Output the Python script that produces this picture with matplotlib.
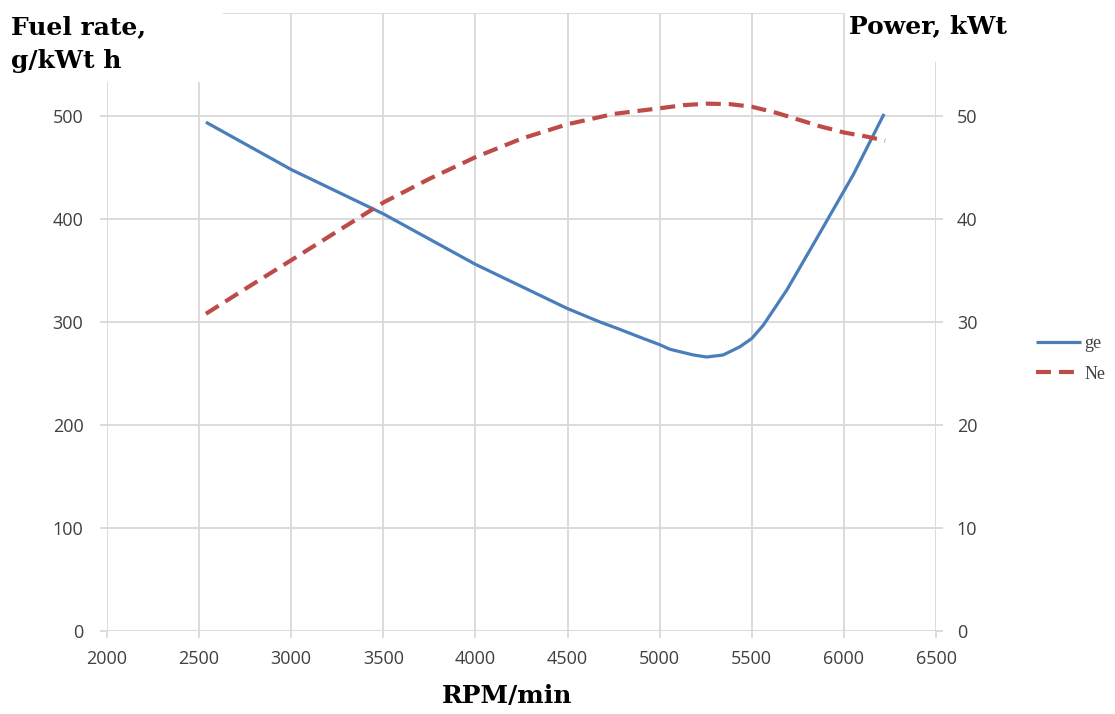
import numpy as np
import matplotlib
matplotlib.use('Agg')
import matplotlib.pyplot as plt
from matplotlib.patches import Rectangle

# ---------------- data ----------------
ge_rpm = [2537, 3000, 3500, 4000, 4500, 4676, 4767, 4911, 5000, 5056,
          5183, 5255, 5345, 5436, 5500, 5563, 5690, 5852, 6051, 6218]
ge_val = [494, 448, 405, 356, 313, 300, 294, 284, 278, 273.5,
          268, 266, 268, 276, 284, 297, 331, 381, 443, 502]

ne_rpm = [2537, 2758, 3000, 3250, 3500, 3750, 4000, 4250, 4500, 4750, 5000,
          5128, 5255, 5382, 5500, 5635, 5762, 5870, 6000, 6124, 6224]
ne_val = [30.8, 33.3, 36.0, 38.8, 41.6, 43.9, 46.0, 47.8, 49.2, 50.2, 50.75,
          51.05, 51.2, 51.15, 50.9, 50.3, 49.6, 49.0, 48.4, 48.0, 47.6]

x_ticks = [2000, 2500, 3000, 3500, 4000, 4500, 5000, 5500, 6000, 6500]
left_ticks = [0, 100, 200, 300, 400, 500, 600]
right_ticks = [0, 10, 20, 30, 40, 50, 60]

grid_c = '#d9d9d9'
text_c = '#404040'
blue = '#4a7ebb'
red = '#be4b48'
tick_font = {'family': 'Open Sans', 'size': 13, 'color': text_c}
title_font = {'family': 'DejaVu Serif', 'size': 18, 'weight': 'bold', 'color': 'black'}

W, H = 1115, 714
fig = plt.figure(figsize=(W / 100, H / 100), dpi=100)
ax = fig.add_axes([107 / W, 1 - 631 / H, (936 - 107) / W, (631 - 13) / H])
ax2 = ax.twinx()

l1, = ax.plot(ge_rpm, ge_val, color=blue, lw=2.3, solid_capstyle='butt',
              solid_joinstyle='round', zorder=3)
l2, = ax2.plot(ne_rpm, ne_val, color=red, lw=3, dashes=(3.6, 1.9), zorder=3)

ax.set_xlim(2000, 6500)
ax.set_ylim(0, 600)
ax2.set_ylim(0, 60)
ax.set_xticks(x_ticks)
ax.set_yticks(left_ticks)
ax2.set_yticks(right_ticks)
ax.set_xticklabels([str(v) for v in x_ticks], **tick_font)
ax.set_yticklabels([str(v) if v < 600 else '' for v in left_ticks], **tick_font)
ax2.set_yticklabels([str(v) if v < 60 else '' for v in right_ticks], **tick_font)

ax.grid(True, color=grid_c, lw=1.3)
ax.set_axisbelow(True)
for a in (ax, ax2):
    for s in a.spines.values():
        s.set_visible(False)
ax.tick_params(axis='both', direction='out', length=5, width=1.3, color=grid_c)
ax.tick_params(axis='y', pad=12)
ax.tick_params(axis='x', pad=9)
ax2.tick_params(axis='y', direction='out', length=5, width=1.3, color=grid_c, pad=10)

# white boxes that hide the top corners of the grid, like in the original
fig.add_artist(Rectangle((0, 1 - 82 / H), 223 / W, 82 / H, transform=fig.transFigure,
                         facecolor='white', edgecolor='none', zorder=5))
fig.add_artist(Rectangle((845 / W, 1 - 62 / H), (W - 845) / W, 62 / H, transform=fig.transFigure,
                         facecolor='white', edgecolor='none', zorder=5))

fig.text(11 / W, 1 - 27 / H, 'Fuel rate,', va='center', ha='left', zorder=6, **title_font)
fig.text(11 / W, 1 - 61 / H, 'g/kWt h', va='center', ha='left', zorder=6, **title_font)
fig.text(849 / W, 1 - 26 / H, 'Power, kWt', va='center', ha='left', zorder=6, **title_font)
fig.text(507 / W, 1 - 696 / H, 'RPM/min', va='center', ha='center', zorder=6, **title_font)

leg = fig.legend([l1, l2], ['ge', 'Ne'], loc='center left', bbox_to_anchor=(1020 / W, 1 - 359 / H),
                 frameon=False, handlelength=2.5, handletextpad=0.15, labelspacing=0.75,
                 prop={'family': 'Liberation Serif', 'size': 13})
for t in leg.get_texts():
    t.set_color(text_c)

fig.savefig('out.png', dpi=100, facecolor='white')
